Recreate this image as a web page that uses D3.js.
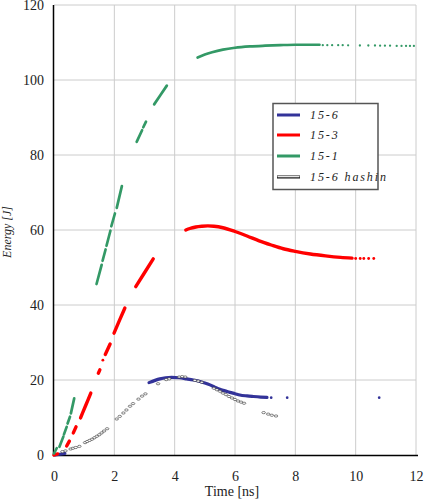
<!DOCTYPE html>
<html><head><meta charset="utf-8">
<script src="https://cdn.jsdelivr.net/npm/d3@7"></script>
<style>
html,body{margin:0;padding:0;background:#fff;}
svg{display:block;}
</style></head>
<body>
<svg id="chart" width="425" height="501"></svg>
<script>
// ---- data (time in ns, energy in J); null = gap between plotted runs ----
const xTicks = [0, 2, 4, 6, 8, 10, 12];
const yTicks = [0, 20, 40, 60, 80, 100, 120];
const seriesNames = ["15-6", "15-3", "15-1", "15-6 hashin"];
const seriesColors = ["#333399", "#ff0000", "#339966", "#000000"];

const series15_6 = [
  [0.03,0.0],[0.36,0.4], null,
  [3.15,19.3],[3.35,19.9],[3.51,20.3],[3.7,20.6],[3.9,20.7],[4.15,20.6],[4.4,20.3],[4.62,20.0],[4.84,19.6],
  [5.0,19.2],[5.17,18.7],[5.33,18.1],[5.5,17.5],[5.67,17.1],[5.83,16.7],[6.0,16.35],[6.16,16.0],
  [6.4,15.75],[6.61,15.6],[6.85,15.45],[7.06,15.35], null,
  [7.2,15.3], null, [7.73,15.3], null, [10.78,15.3]
];
const series15_3 = [
  [0.0,0.0],[0.12,0.3], null,
  [0.42,2.4],[0.51,3.7], null,
  [0.64,5.9],[0.73,7.5], null,
  [0.88,9.9],[1.05,13.2],[1.22,16.5], null,
  [1.47,21.8],[1.52,22.7], null,
  [1.62,25.3], null,
  [1.7,26.8],[1.86,29.6], null,
  [1.99,32.5],[2.17,35.9],[2.35,39.2], null,
  [2.71,44.9],[3.0,48.6],[3.29,52.3], null,
  [4.37,60.0],[4.5,60.4],[4.7,60.8],[4.9,61.0],[5.1,61.1],[5.3,61.0],[5.6,60.6],[6.0,59.6],[6.4,58.4],
  [6.8,57.1],[7.2,56.0],[7.6,55.0],[8.0,54.3],[8.5,53.6],[9.0,53.1],[9.5,52.7],[9.88,52.5], null,
  [10.0,52.4], null, [10.15,52.4], null, [10.27,52.4], null, [10.43,52.4], null, [10.6,52.4]
];
const series15_1 = [
  [0.0,0.4],[0.09,1.8], null,
  [0.18,2.2],[0.31,4.9], null,
  [0.33,5.5],[0.42,7.5], null,
  [0.45,8.4],[0.53,10.2], null,
  [0.56,11.1],[0.67,15.1], null,
  [1.41,45.6],[1.58,50.7], null,
  [1.61,51.8],[1.71,54.8], null,
  [1.74,55.8],[1.87,59.8], null,
  [1.9,61.0],[2.02,64.4], null,
  [2.08,65.9],[2.25,71.7], null,
  [2.74,83.5],[2.92,86.6], null,
  [2.96,87.4],[3.05,88.9], null,
  [3.32,93.5],[3.53,96.0],[3.74,98.5], null,
  [4.76,106.0],[5.0,106.8],[5.24,107.4],[5.6,108.1],[6.0,108.6],[6.5,108.95],[7.0,109.15],[7.5,109.3],
  [8.0,109.4],[8.5,109.4],[8.8,109.4], null,
  [8.91,109.3], null, [9.06,109.3], null, [9.22,109.3], null, [9.42,109.3], null, [9.57,109.3], null,
  [9.75,109.25], null, [10.14,109.2], null, [10.42,109.2], null, [10.64,109.2], null, [10.81,109.15], null,
  [10.97,109.15], null, [11.14,109.15], null, [11.36,109.1], null, [11.52,109.1], null, [11.67,109.1], null,
  [11.8,109.1], null, [11.93,109.1]
];
const series15_6hashin = [
  [0.28,0.9],[0.38,1.1],[0.55,1.6],[0.63,1.8],[0.72,2.0],[0.84,2.3],
  [1.03,3.3],[1.1,3.6],[1.18,3.9],[1.26,4.2],[1.34,4.6],[1.42,5.0],[1.5,5.4],[1.58,5.9],[1.66,6.4],[1.76,7.0],
  [2.08,9.6],[2.18,10.3],[2.3,11.2],[2.4,12.0],[2.52,13.0],[2.62,13.7],
  [2.8,14.9],[2.92,15.7],[3.03,16.3],
  [3.45,19.0],[3.72,20.1],[3.82,20.3],[4.15,20.8],[4.25,20.9],[4.35,20.8],[4.67,19.9],[4.78,19.7],[4.9,19.4],
  [5.3,17.8],[5.4,17.4],[5.5,17.0],[5.6,16.5],[5.7,16.1],[5.8,15.6],[5.9,15.2],[6.0,14.8],[6.1,14.4],[6.2,14.1],[6.3,13.8],
  [6.95,11.3],[7.1,10.9],[7.22,10.6],[7.36,10.4]
];

// ---- drawing ----
const svg = d3.select("#chart");
const x = d3.scaleLinear().domain([0, 12]).range([54, 416]);
const y = d3.scaleLinear().domain([0, 120]).range([455, 5]);
const gridColor = "#cccccc";
const font = "'Liberation Serif'";

// grid
svg.append("g").selectAll("line").data(xTicks.filter(d => d > 0)).join("line")
  .attr("x1", d => x(d)).attr("x2", d => x(d)).attr("y1", y(120)).attr("y2", y(0))
  .attr("stroke", gridColor).attr("stroke-width", 1);
svg.append("g").selectAll("line").data(yTicks.filter(d => d > 0)).join("line")
  .attr("x1", x(0)).attr("x2", x(12)).attr("y1", d => y(d)).attr("y2", d => y(d))
  .attr("stroke", gridColor).attr("stroke-width", 1);

// axes
const xAxis = d3.axisBottom(x).tickValues(xTicks).tickSize(0).tickPadding(16).tickFormat(d3.format("d"));
const yAxis = d3.axisLeft(y).tickValues(yTicks).tickSize(0).tickPadding(10).tickFormat(d3.format("d"));
const gx = svg.append("g").attr("transform", `translate(0,${y(0)})`).call(xAxis);
const gy = svg.append("g").attr("transform", `translate(${x(0)},0)`).call(yAxis);
[gx, gy].forEach(g => {
  g.attr("font-family", null).attr("font-size", null);
  g.select(".domain").remove();
  g.selectAll("text").style("font-family", font).style("font-size", "14px").attr("fill", "#222");
});
svg.append("line").attr("x1", x(0) - 0.5).attr("x2", x(0) - 0.5).attr("y1", y(120)).attr("y2", y(0) + 1)
  .attr("stroke", "#000").attr("stroke-width", 1.5);
svg.append("line").attr("x1", x(0) - 1).attr("x2", x(12) + 2).attr("y1", y(0) + 0.5).attr("y2", y(0) + 0.5)
  .attr("stroke", "#000").attr("stroke-width", 1.5);

// axis titles
svg.append("text").attr("x", 232).attr("y", 496).attr("text-anchor", "middle")
  .style("font-family", font).style("font-size", "14px").attr("fill", "#222").text("Time [ns]");
svg.append("text").attr("transform", "translate(11,232) rotate(-90)").attr("text-anchor", "middle")
  .style("font-family", font).style("font-size", "12px").style("font-style", "italic").attr("fill", "#222").text("Energy [J]");

// split arrays into runs at nulls
function runs(arr) {
  const out = []; let cur = [];
  arr.forEach(p => { if (p === null) { if (cur.length) out.push(cur); cur = []; } else cur.push(p); });
  if (cur.length) out.push(cur);
  return out;
}
const line = d3.line().x(d => x(d[0])).y(d => y(d[1])).curve(d3.curveMonotoneX);

function drawSolid(data, color, width) {
  const g = svg.append("g");
  runs(data).forEach(r => {
    if (r.length === 1) {
      g.append("circle").attr("cx", x(r[0][0])).attr("cy", y(r[0][1])).attr("r", width * 0.42).attr("fill", color);
    } else {
      g.append("path").attr("d", line(r)).attr("fill", "none").attr("stroke", color)
        .attr("stroke-width", width).attr("stroke-linecap", "round").attr("stroke-linejoin", "round");
    }
  });
}
drawSolid(series15_6, seriesColors[0], 3.2);
drawSolid(series15_3, seriesColors[1], 3.4);
drawSolid(series15_1, seriesColors[2], 2.7);

// hashin: hollow markers
svg.append("g").selectAll("ellipse").data(series15_6hashin).join("ellipse")
  .attr("cx", d => x(d[0])).attr("cy", d => y(d[1])).attr("rx", 1.8).attr("ry", 1.1)
  .attr("fill", "#fff").attr("stroke", "#333").attr("stroke-width", 0.6);

// legend
const lg = svg.append("g");
lg.append("rect").attr("x", 273).attr("y", 103.5).attr("width", 105).attr("height", 86)
  .attr("fill", "#fff").attr("stroke", "#555").attr("stroke-width", 1.5);
const rowY = [115, 135, 156, 177];
seriesNames.forEach((name, i) => {
  if (i < 3) {
    lg.append("line").attr("x1", 277).attr("x2", 300).attr("y1", rowY[i]).attr("y2", rowY[i])
      .attr("stroke", seriesColors[i]).attr("stroke-width", 3);
  } else {
    lg.append("line").attr("x1", 277).attr("x2", 300).attr("y1", rowY[i]).attr("y2", rowY[i])
      .attr("stroke", "#111").attr("stroke-width", 3);
    lg.append("line").attr("x1", 277.5).attr("x2", 299.5).attr("y1", rowY[i] - 0.3).attr("y2", rowY[i] - 0.3)
      .attr("stroke", "#fff").attr("stroke-width", 1.2);
  }
  lg.append("text").attr("x", 310).attr("y", rowY[i] + 4)
    .style("font-family", font).style("font-size", "12px").style("font-style", "italic")
    .attr("letter-spacing", 1.9).attr("fill", "#222").text(name);
});
</script>
</body></html>
